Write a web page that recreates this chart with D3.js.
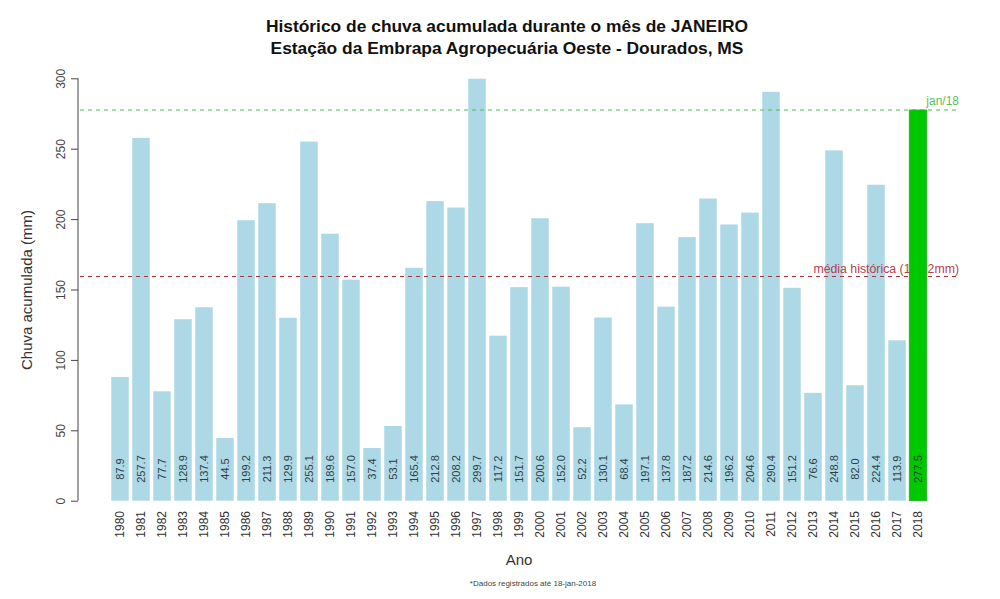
<!DOCTYPE html>
<html>
<head>
<meta charset="utf-8">
<script src="https://cdn.jsdelivr.net/npm/d3@7"></script>
<style>
  body { margin: 0; background: #fff; }
  svg { display: block; font-family: "Liberation Sans", Arial, Helvetica, sans-serif; }
</style>
</head>
<body>
<svg id="chart" width="1000" height="599"></svg>
<script>
const years = [1980,1981,1982,1983,1984,1985,1986,1987,1988,1989,1990,1991,1992,1993,1994,1995,1996,1997,1998,1999,2000,2001,2002,2003,2004,2005,2006,2007,2008,2009,2010,2011,2012,2013,2014,2015,2016,2017,2018];
const rain = [87.9,257.7,77.7,128.9,137.4,44.5,199.2,211.3,129.9,255.1,189.6,157.0,37.4,53.1,165.4,212.8,208.2,299.7,117.2,151.7,200.6,152.0,52.2,130.1,68.4,197.1,137.8,187.2,214.6,196.2,204.6,290.4,151.2,76.6,248.8,82.0,224.4,113.9,277.5];
const yTicks = [0,50,100,150,200,250,300];
const meanValue = 159.2;
const currentValue = 277.5;
const titleLines = ["Histórico de chuva acumulada durante o mês de JANEIRO", "Estação da Embrapa Agropecuária Oeste - Dourados, MS"];
const meanLabel = "média histórica (159.2mm)";
const currentLabel = "jan/18";
const xTitle = "Ano";
const yTitle = "Chuva acumulada (mm)";
const footnote = "*Dados registrados até 18-jan-2018";

const svg = d3.select("#chart");
const plotLeft = 80, plotRight = 960;

const x = d3.scaleBand()
  .domain(years.map(String))
  .range([111.25, 926.75])
  .paddingInner(0.2 / 1.2)
  .paddingOuter(0);

const y = d3.scaleLinear().domain([0, 300]).range([500.7, 78.3]);

const data = years.map((yr, i) => ({ year: String(yr), value: rain[i] }));
const lastYear = String(years[years.length - 1]);

// blue bars
svg.append("g").selectAll("rect")
  .data(data.filter(d => d.year !== lastYear))
  .join("rect")
  .attr("x", d => x(d.year))
  .attr("width", x.bandwidth())
  .attr("y", d => y(d.value))
  .attr("height", d => y(0) - y(d.value))
  .attr("fill", "#add8e6");

// reference lines
svg.append("line")
  .attr("x1", plotLeft).attr("x2", plotRight)
  .attr("y1", y(currentValue)).attr("y2", y(currentValue))
  .attr("stroke", "#4cbb4c").attr("stroke-width", 1.1)
  .attr("stroke-dasharray", "4,4");
svg.append("line")
  .attr("x1", plotLeft).attr("x2", plotRight)
  .attr("y1", y(meanValue)).attr("y2", y(meanValue))
  .attr("stroke", "#a8343e").attr("stroke-width", 1.1)
  .attr("stroke-dasharray", "4,4");

svg.append("text")
  .attr("x", plotRight - 1).attr("y", y(currentValue) - 5)
  .attr("text-anchor", "end")
  .attr("font-size", 12)
  .attr("fill", "#5cbf5c")
  .text(currentLabel);
svg.append("text")
  .attr("x", plotRight - 1).attr("y", y(meanValue) - 4)
  .attr("text-anchor", "end")
  .attr("font-size", 12.3)
  .attr("fill", "#b8404c")
  .text(meanLabel);

// highlighted bar (drawn last)
svg.append("g").selectAll("rect")
  .data(data.filter(d => d.year === lastYear))
  .join("rect")
  .attr("x", d => x(d.year))
  .attr("width", x.bandwidth())
  .attr("y", d => y(d.value))
  .attr("height", d => y(0) - y(d.value))
  .attr("fill", "#00c800")
  .attr("stroke", "#22b022").attr("stroke-width", 0.8);

// bar value labels
svg.append("g").selectAll("text")
  .data(data)
  .join("text")
  .attr("transform", d => `translate(${x(d.year) + x.bandwidth() / 2},469) rotate(-90)`)
  .attr("text-anchor", "middle")
  .attr("dy", "0.35em")
  .attr("font-size", 11)
  .attr("fill", "#2f3f46")
  .text(d => d.value.toFixed(1));

// x category labels
svg.append("g").selectAll("text")
  .data(data)
  .join("text")
  .attr("transform", d => `translate(${x(d.year) + x.bandwidth() / 2},511) rotate(-90)`)
  .attr("text-anchor", "end")
  .attr("dy", "0.35em")
  .attr("font-size", 12)
  .attr("fill", "#333")
  .text(d => d.year);

// y axis
const yAxis = d3.axisLeft(y).tickValues(yTicks).tickSize(7).tickFormat(d3.format("d"));
const gy = svg.append("g").attr("transform", "translate(78,0)").call(yAxis);
gy.select(".domain").attr("d", `M0,${y(0)}V${y(300)}`).attr("stroke", "#444");
gy.selectAll(".tick line").attr("stroke", "#444");
gy.selectAll(".tick text")
  .attr("x", null).attr("dy", null)
  .attr("transform", "translate(-13,0) rotate(-90)")
  .attr("text-anchor", "middle")
  .attr("font-size", 12)
  .attr("font-family", "Liberation Sans, Arial, sans-serif")
  .attr("fill", "#444");

// titles
svg.append("text")
  .attr("x", 507).attr("y", 32)
  .attr("text-anchor", "middle")
  .attr("font-size", 17.4).attr("font-weight", "bold")
  .attr("fill", "#111")
  .text(titleLines[0]);
svg.append("text")
  .attr("x", 507).attr("y", 54)
  .attr("text-anchor", "middle")
  .attr("font-size", 17.4).attr("font-weight", "bold")
  .attr("fill", "#111")
  .text(titleLines[1]);

svg.append("text")
  .attr("x", 519).attr("y", 565)
  .attr("text-anchor", "middle")
  .attr("font-size", 15)
  .attr("fill", "#333")
  .text(xTitle);

svg.append("text")
  .attr("transform", "translate(27,290) rotate(-90)")
  .attr("text-anchor", "middle")
  .attr("dy", "0.35em")
  .attr("font-size", 15)
  .attr("fill", "#333")
  .text(yTitle);

svg.append("text")
  .attr("x", 533).attr("y", 586)
  .attr("text-anchor", "middle")
  .attr("font-size", 8)
  .attr("fill", "#444")
  .text(footnote);
</script>
</body>
</html>
